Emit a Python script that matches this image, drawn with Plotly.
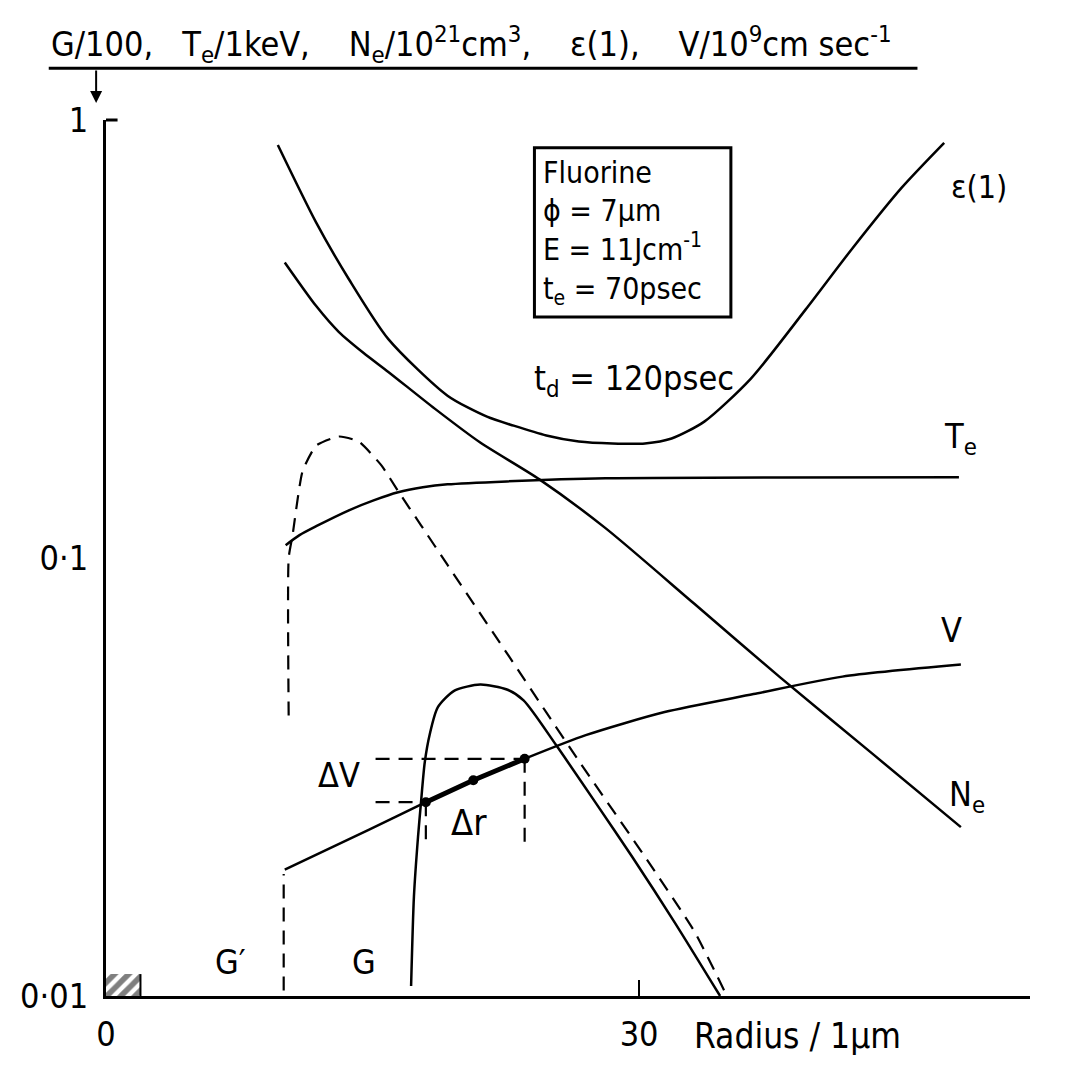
import plotly.graph_objects as go

# ---------------- data (radius in µm, values on log scale) ----------------
eps_r = [9.67, 11.83, 13.67, 15.89, 19.22, 21.44, 22.94, 24.78, 26.61, 28.5, 30.33, 31.83, 33.67, 36.28, 39.39, 42.0, 44.78, 47.17]
eps_v = [0.877, 0.583, 0.433, 0.316, 0.2347, 0.2102, 0.2005, 0.1905, 0.1845, 0.1826, 0.1826, 0.1874, 0.2048, 0.2565, 0.370, 0.509, 0.7008, 0.887]

ne_r = [10.06, 11.83, 13.11, 14.5, 15.89, 18.5, 21.06, 24.39, 28.11, 33.11, 37.94, 43.11, 48.11]
ne_v = [0.473, 0.376, 0.328, 0.2938, 0.266, 0.2193, 0.1835, 0.1512, 0.117, 0.0786, 0.0534, 0.0358, 0.0243]

te_r = [10.11, 10.89, 11.83, 13.67, 15.06, 16.44, 17.83, 19.22, 22.56, 28.11, 48.0]
te_v = [0.107, 0.1128, 0.1182, 0.1285, 0.1354, 0.1413, 0.1450, 0.1473, 0.1496, 0.152, 0.1528]

v_r = [10.06, 14.78, 18.0, 20.67, 23.56, 27.0, 31.44, 36.44, 41.44, 48.11]
v_v = [0.01944, 0.02395, 0.0277, 0.0311, 0.0348, 0.0394, 0.0445, 0.0489, 0.0536, 0.0571]

g_r = [17.17, 17.33, 17.56, 17.72, 17.94, 18.22, 18.67, 19.61, 21.06, 22.56, 23.5, 25.33, 27.56, 29.61, 32.0, 34.56]
g_v = [0.01054, 0.01688, 0.0231, 0.02746, 0.0342, 0.0396, 0.0456, 0.0498, 0.0514, 0.0501, 0.0473, 0.0374, 0.0276, 0.0208, 0.01473, 0.0100]

gp_r = [10.28, 10.28, 10.5, 11.06, 11.83, 13.11, 14.22, 15.5, 16.44, 17.72, 19.22, 22.72, 24.78, 26.61, 30.33, 33.11, 34.89]
gp_v = [0.0437, 0.100, 0.1128, 0.1577, 0.1806, 0.1894, 0.1845, 0.1627, 0.1421, 0.1189, 0.0964, 0.0593, 0.0444, 0.0344, 0.0208, 0.01405, 0.0101]

gp_low_r = [10.0, 10.0]
gp_low_v = [0.0103, 0.0190]

# Δr / ΔV construction on the V curve
pts_r = [18.0, 20.67, 23.56]
pts_v = [0.0277, 0.0311, 0.0348]
dv_left_r = 15.17
dr_bottom_v = 0.0225

hatch_r = [0, 1.94, 1.94, 0, 0]
hatch_v = [0.01, 0.01, 0.01122, 0.01122, 0.01]

x_ticks = [0, 30]
x_tick_text = ["0", "30"]
y_ticks = [1, 0.1, 0.01]
y_tick_text = ["1", "0·1", "0·01"]

# ---------------- layout geometry (page pixels) ----------------
PAGE_OFF = 8                     # default body margin of the html page
W, H = 1065 - 2 * PAGE_OFF, 1074 - 2 * PAGE_OFF
L, R, T, B = 94, 1030, 120, 1000  # plot area on the page
FONT = "DejaVu Sans Condensed, Liberation Sans Narrow, Liberation Sans, Arial"
NB = "\u00a0"


def px(x):
    return (x - L) / (R - L)


def py(y):
    return (B - y) / (B - T)


fig = go.Figure()
line = dict(color="black", width=2.5)
dash = dict(color="black", width=2.2, dash="14px,9px")
SM = 0.7

fig.add_trace(go.Scatter(x=hatch_r, y=hatch_v, mode="lines", fill="toself",
                         fillcolor="rgba(0,0,0,0)", line=dict(color="rgba(0,0,0,0)", width=0),
                         fillpattern=dict(shape="/", fgcolor="black", bgcolor="white",
                                          size=10, solidity=0.55)))
fig.add_trace(go.Scatter(x=[hatch_r[1], hatch_r[2]], y=[hatch_v[1], hatch_v[2]], mode="lines",
                         line=dict(color="black", width=2)))
fig.add_trace(go.Scatter(x=eps_r, y=eps_v, mode="lines", line=dict(**line, shape="spline", smoothing=SM)))
fig.add_trace(go.Scatter(x=ne_r, y=ne_v, mode="lines", line=dict(**line, shape="spline", smoothing=SM)))
fig.add_trace(go.Scatter(x=te_r, y=te_v, mode="lines", line=dict(**line, shape="spline", smoothing=SM)))
fig.add_trace(go.Scatter(x=v_r, y=v_v, mode="lines", line=dict(**line, shape="spline", smoothing=SM)))
fig.add_trace(go.Scatter(x=g_r, y=g_v, mode="lines", line=dict(**line, shape="spline", smoothing=SM)))
fig.add_trace(go.Scatter(x=gp_r, y=gp_v, mode="lines", line=dict(**dash, shape="spline", smoothing=0.5)))
fig.add_trace(go.Scatter(x=gp_low_r, y=gp_low_v, mode="lines", line=dash))

# Δ construction
fig.add_trace(go.Scatter(x=[dv_left_r, pts_r[0]], y=[pts_v[0], pts_v[0]], mode="lines", line=dash))
fig.add_trace(go.Scatter(x=[dv_left_r, pts_r[2]], y=[pts_v[2], pts_v[2]], mode="lines", line=dash))
fig.add_trace(go.Scatter(x=[pts_r[0], pts_r[0]], y=[pts_v[0], dr_bottom_v], mode="lines", line=dash))
fig.add_trace(go.Scatter(x=[pts_r[2], pts_r[2]], y=[pts_v[2], dr_bottom_v], mode="lines", line=dash))
fig.add_trace(go.Scatter(x=pts_r, y=pts_v, mode="lines+markers",
                         line=dict(color="black", width=5),
                         marker=dict(color="black", size=10)))

# y tick mark at 1 (pointing inward)
fig.add_shape(type="line", xref="x", yref="paper", x0=0, x1=0.65, y0=1, y1=1,
              line=dict(color="black", width=3))

TICKFONT = dict(size=34, family=FONT, color="black")
fig.update_xaxes(range=[0, 52], showline=True, linecolor="black", linewidth=3,
                 showgrid=False, zeroline=False, tickvals=x_ticks, ticktext=x_tick_text,
                 ticks="inside", ticklen=16, tickwidth=2, tickcolor="black",
                 tickfont=TICKFONT, ticklabelstandoff=6)
fig.update_yaxes(type="log", range=[-2, 0], showline=True, linecolor="black", linewidth=3,
                 showgrid=False, zeroline=False, tickvals=y_ticks, ticktext=y_tick_text,
                 ticks="", tickfont=TICKFONT, ticklabelstandoff=8)

ann = []


def text(x, y, s, size=34, xanchor="center", yanchor="middle"):
    ann.append(dict(x=px(x), y=py(y), xref="paper", yref="paper", text=s, showarrow=False,
                    font=dict(size=size, family=FONT, color="black"),
                    xanchor=xanchor, yanchor=yanchor))


gap = NB * 4
header = ("G/100," + NB * 3 + "T<sub>e</sub>/1keV," + gap + "N<sub>e</sub>/10<sup>21</sup>cm<sup>3</sup>,"
          + gap + "ε(1)," + gap + "V/10<sup>9</sup>cm" + NB + "sec<sup>-1</sup>")
text(36, 44, header, size=34, xanchor="left")
text(688, 1040, "Radius / 1µm", size=35, xanchor="left")
text(978, 187, "ε(1)", size=32)
text(960, 440, "T<sub>e</sub>", size=34)
text(950, 632, "V", size=34)
text(966, 800, "N<sub>e</sub>", size=34)
text(330, 778, "ΔV", size=34)
text(462, 826, "Δr", size=36)
text(220, 966, "G′", size=34)
text(355, 966, "G", size=34)
BOX = 30
text(535, 173, "Fluorine", size=BOX, xanchor="left")
text(535, 211, "ϕ = 7µm", size=BOX, xanchor="left")
text(535, 248, "E = 11Jcm<sup>-1</sup>", size=BOX, xanchor="left")
text(535, 291, "t<sub>e</sub> = 70psec", size=BOX, xanchor="left")
text(526, 382, "t<sub>d</sub> = 120psec", size=34, xanchor="left")

# header arrow
ann.append(dict(x=px(84), y=py(103), xref="paper", yref="paper", ax=0, ay=-34,
                axref="pixel", ayref="pixel", showarrow=True, arrowhead=2, arrowsize=1.2,
                arrowwidth=2, arrowcolor="black", text=""))

fig.add_shape(type="line", xref="paper", yref="paper", x0=px(36), x1=px(916), y0=py(68), y1=py(68),
              line=dict(color="black", width=3))
fig.add_shape(type="rect", xref="paper", yref="paper", x0=px(528), x1=px(727), y0=py(318), y1=py(148),
              line=dict(color="black", width=3))

fig.update_layout(width=W, height=H,
                  margin=dict(l=L - PAGE_OFF, r=W - (R - PAGE_OFF), t=T - PAGE_OFF, b=H - (B - PAGE_OFF)),
                  paper_bgcolor="white", plot_bgcolor="white", showlegend=False,
                  annotations=ann)

fig.write_html("out.html")
